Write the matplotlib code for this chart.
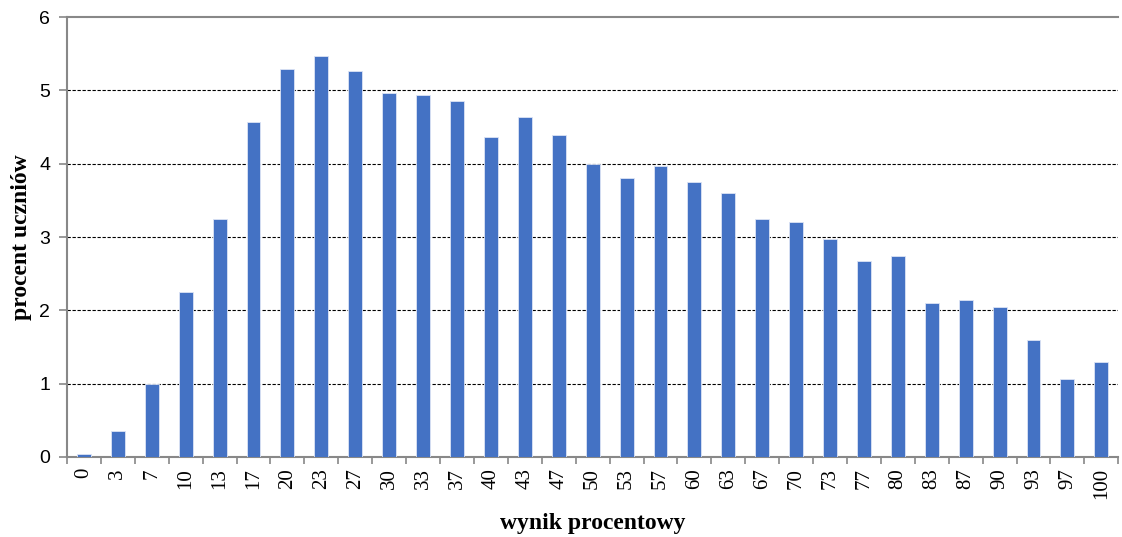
import numpy as np
import matplotlib.pyplot as plt

# score categories (percent) and share of students
categories = ['0', '3', '7', '10', '13', '17', '20', '23', '27', '30', '33',
              '37', '40', '43', '47', '50', '53', '57', '60', '63', '67', '70',
              '73', '77', '80', '83', '87', '90', '93', '97', '100']
values = [0.04, 0.36, 0.99, 2.25, 3.24, 4.57, 5.29, 5.47, 5.27, 4.97, 4.94,
          4.85, 4.36, 4.64, 4.39, 4.00, 3.80, 3.97, 3.75, 3.60, 3.25, 3.20,
          2.97, 2.67, 2.74, 2.10, 2.14, 2.04, 1.59, 1.06, 1.29]
yticks = [0, 1, 2, 3, 4, 5, 6]

fig = plt.figure(figsize=(11.22, 5.37), dpi=100)
ax = fig.add_axes([0.0597, 0.149, 0.937, 0.819])

x = np.arange(len(categories))
ax.bar(x, values, width=0.41, color='#4472C4', edgecolor='#dce4f5',
       linewidth=0.6, zorder=3)

# dashed gridlines
for yv in yticks[1:-1]:
    ax.axhline(yv, color='black', linestyle=(0, (3, 1.5)), linewidth=0.8, zorder=1)

ax.set_xlim(-0.5, len(categories) - 0.5)
ax.set_ylim(0, 6)
ax.set_yticks(yticks)
ax.set_yticklabels([str(v) for v in yticks], fontfamily='Liberation Sans', fontsize=14)
ax.tick_params(axis='y', length=6, color='#888888', width=1.2, pad=6)

ax.set_xticks(x)
ax.set_xticklabels(categories, rotation=90, fontfamily='Liberation Serif', fontsize=15)
ax.tick_params(axis='x', which='major', length=0, pad=8)
ax.set_xticks(np.arange(-0.5, len(categories)), minor=True)
ax.tick_params(axis='x', which='minor', length=5, color='#888888', width=1.2)

for side in ['left', 'bottom', 'top']:
    ax.spines[side].set_color('#888888')
    ax.spines[side].set_linewidth(1.5)
ax.spines['right'].set_visible(False)

ax.set_xlabel('wynik procentowy', fontfamily='Liberation Serif', fontweight='bold',
              fontsize=17, labelpad=10)
ax.set_ylabel('procent uczniów', fontfamily='Liberation Serif', fontweight='bold',
              fontsize=17, labelpad=5)

fig.savefig('out.png')
